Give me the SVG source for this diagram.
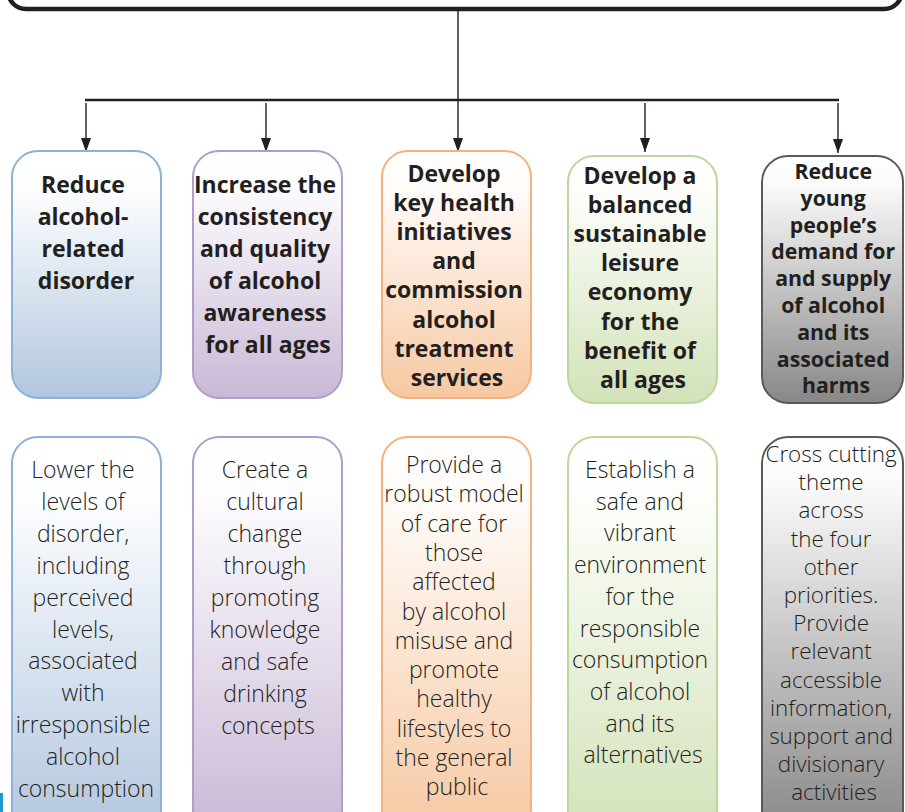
<svg xmlns="http://www.w3.org/2000/svg" width="905" height="812" viewBox="0 0 905 812">
  <defs>
    <linearGradient id="gBlue" x1="0" y1="0" x2="0" y2="1">
      <stop offset="0" stop-color="#ffffff"/>
      <stop offset="0.15" stop-color="#fdfeff"/>
      <stop offset="1" stop-color="#b2c6df"/>
    </linearGradient>
    <linearGradient id="gPurple" x1="0" y1="0" x2="0" y2="1">
      <stop offset="0" stop-color="#ffffff"/>
      <stop offset="0.15" stop-color="#fdfcfe"/>
      <stop offset="1" stop-color="#c8b8d5"/>
    </linearGradient>
    <linearGradient id="gOrange" x1="0" y1="0" x2="0" y2="1">
      <stop offset="0" stop-color="#ffffff"/>
      <stop offset="0.15" stop-color="#fffcfa"/>
      <stop offset="1" stop-color="#f6c8a1"/>
    </linearGradient>
    <linearGradient id="gGreen" x1="0" y1="0" x2="0" y2="1">
      <stop offset="0" stop-color="#ffffff"/>
      <stop offset="0.15" stop-color="#fdfefb"/>
      <stop offset="1" stop-color="#d2e2b8"/>
    </linearGradient>
    <linearGradient id="gGray" x1="0" y1="0" x2="0" y2="1">
      <stop offset="0" stop-color="#ffffff"/>
      <stop offset="0.12" stop-color="#fafafa"/>
      <stop offset="1" stop-color="#878787"/>
    </linearGradient>
    <marker id="arrow" viewBox="0 0 14 10" refX="14" refY="5" markerWidth="14" markerHeight="10" markerUnits="userSpaceOnUse" orient="auto">
      <path d="M0,0 L14,5 L0,10 z" fill="#231f20"/>
    </marker>
  </defs>
  <style>
    .box { stroke-width: 2; }
    .blue { fill: url(#gBlue); stroke: #8db0d7; }
    .purple { fill: url(#gPurple); stroke: #b19dc7; }
    .orange { fill: url(#gOrange); stroke: #f4b17e; }
    .green { fill: url(#gGreen); stroke: #bdd69c; }
    .gray { fill: url(#gGray); stroke: #58595b; }
    .head { font-family: "Open Sans", "Liberation Sans", sans-serif; font-weight: 700; font-size: 23px; fill: #231f20; text-anchor: middle; }
    .body { font-family: "Open Sans", "Liberation Sans", sans-serif; font-weight: 300; font-size: 23px; fill: #231f20; text-anchor: middle; }
    .tight { font-size: 21.3px; }
    .tight-body { font-size: 22.4px; }
    .wire { stroke: #231f20; fill: none; }
  </style>

  <rect width="905" height="812" fill="#ffffff"/>

  <!-- title box, mostly above the visible area -->
  <g id="title">
    <rect x="8" y="-60" width="894" height="69" rx="18" fill="#ffffff" stroke="#231f20" stroke-width="4.5"/>
  </g>

  <!-- connectors -->
  <g id="connectors">
    <line class="wire" x1="458" y1="10" x2="458" y2="152" stroke-width="1.4" marker-end="url(#arrow)"/>
    <line class="wire" x1="85" y1="100" x2="839" y2="100" stroke-width="2.6"/>
    <line class="wire" x1="86" y1="103" x2="86" y2="152" stroke-width="1.4" marker-end="url(#arrow)"/>
    <line class="wire" x1="266" y1="103" x2="266" y2="152" stroke-width="1.4" marker-end="url(#arrow)"/>
    <line class="wire" x1="645" y1="103" x2="645" y2="152" stroke-width="1.4" marker-end="url(#arrow)"/>
    <line class="wire" x1="838" y1="103" x2="838" y2="153" stroke-width="1.4" marker-end="url(#arrow)"/>
  </g>

  <!-- priorities -->
  <g id="p1">
    <rect class="box blue" x="12" y="151" width="149" height="247" rx="26"/>
    <text class="head" y="193">
      <tspan x="86">Reduce</tspan>
      <tspan x="86" dy="32">alcohol-</tspan>
      <tspan x="86" dy="32">related</tspan>
      <tspan x="86" dy="32">disorder</tspan>
    </text>
  </g>
  <g id="p2">
    <rect class="box purple" x="193" y="151" width="149" height="247" rx="26"/>
    <text class="head" y="193">
      <tspan x="268">Increase the</tspan>
      <tspan x="268" dy="32">consistency</tspan>
      <tspan x="268" dy="32">and quality</tspan>
      <tspan x="268" dy="32">of alcohol</tspan>
      <tspan x="268" dy="32">awareness</tspan>
      <tspan x="268" dy="32">for all ages</tspan>
    </text>
  </g>
  <g id="p3">
    <rect class="box orange" x="382" y="151" width="149" height="247" rx="26"/>
    <text class="head" y="182">
      <tspan x="457">Develop</tspan>
      <tspan x="457" dy="29.1">key health</tspan>
      <tspan x="457" dy="29.1">initiatives</tspan>
      <tspan x="457" dy="29.1">and</tspan>
      <tspan x="457" dy="29.1">commission</tspan>
      <tspan x="457" dy="29.1">alcohol</tspan>
      <tspan x="457" dy="29.1">treatment</tspan>
      <tspan x="457" dy="29.1">services</tspan>
    </text>
  </g>
  <g id="p4">
    <rect class="box green" x="568" y="156" width="149" height="247" rx="26"/>
    <text class="head" y="184">
      <tspan x="643">Develop a</tspan>
      <tspan x="643" dy="29.1">balanced</tspan>
      <tspan x="643" dy="29.1">sustainable</tspan>
      <tspan x="643" dy="29.1">leisure</tspan>
      <tspan x="643" dy="29.1">economy</tspan>
      <tspan x="643" dy="29.1">for the</tspan>
      <tspan x="643" dy="29.1">benefit of</tspan>
      <tspan x="643" dy="29.1">all ages</tspan>
    </text>
  </g>
  <g id="p5">
    <rect class="box gray" x="762" y="156" width="141" height="247" rx="26"/>
    <text class="head tight" y="179">
      <tspan x="836">Reduce</tspan>
      <tspan x="836" dy="26.8">young</tspan>
      <tspan x="836" dy="26.8">people’s</tspan>
      <tspan x="836" dy="26.8">demand for</tspan>
      <tspan x="836" dy="26.8">and supply</tspan>
      <tspan x="836" dy="26.8">of alcohol</tspan>
      <tspan x="836" dy="26.8">and its</tspan>
      <tspan x="836" dy="26.8">associated</tspan>
      <tspan x="836" dy="26.8">harms</tspan>
    </text>
  </g>

  <!-- aims under each priority -->
  <g id="a1">
    <rect class="box blue" x="12" y="437" width="149" height="400" rx="26"/>
    <text class="body" y="478">
      <tspan x="86">Lower the</tspan>
      <tspan x="86" dy="31.9">levels of</tspan>
      <tspan x="86" dy="31.9">disorder,</tspan>
      <tspan x="86" dy="31.9">including</tspan>
      <tspan x="86" dy="31.9">perceived</tspan>
      <tspan x="86" dy="31.9">levels,</tspan>
      <tspan x="86" dy="31.9">associated</tspan>
      <tspan x="86" dy="31.9">with</tspan>
      <tspan x="86" dy="31.9">irresponsible</tspan>
      <tspan x="86" dy="31.9">alcohol</tspan>
      <tspan x="86" dy="31.9">consumption</tspan>
    </text>
  </g>
  <g id="a2">
    <rect class="box purple" x="193" y="437" width="149" height="400" rx="26"/>
    <text class="body" y="478">
      <tspan x="268">Create a</tspan>
      <tspan x="268" dy="32">cultural</tspan>
      <tspan x="268" dy="32">change</tspan>
      <tspan x="268" dy="32">through</tspan>
      <tspan x="268" dy="32">promoting</tspan>
      <tspan x="268" dy="32">knowledge</tspan>
      <tspan x="268" dy="32">and safe</tspan>
      <tspan x="268" dy="32">drinking</tspan>
      <tspan x="268" dy="32">concepts</tspan>
    </text>
  </g>
  <g id="a3">
    <rect class="box orange" x="382" y="437" width="149" height="400" rx="26"/>
    <text class="body" y="473">
      <tspan x="457">Provide a</tspan>
      <tspan x="457" dy="29.3">robust model</tspan>
      <tspan x="457" dy="29.3">of care for</tspan>
      <tspan x="457" dy="29.3">those</tspan>
      <tspan x="457" dy="29.3">affected</tspan>
      <tspan x="457" dy="29.3">by alcohol</tspan>
      <tspan x="457" dy="29.3">misuse and</tspan>
      <tspan x="457" dy="29.3">promote</tspan>
      <tspan x="457" dy="29.3">healthy</tspan>
      <tspan x="457" dy="29.3">lifestyles to</tspan>
      <tspan x="457" dy="29.3">the general</tspan>
      <tspan x="457" dy="29.3">public</tspan>
    </text>
  </g>
  <g id="a4">
    <rect class="box green" x="568" y="437" width="149" height="400" rx="26"/>
    <text class="body" y="478">
      <tspan x="643">Establish a</tspan>
      <tspan x="643" dy="31.7">safe and</tspan>
      <tspan x="643" dy="31.7">vibrant</tspan>
      <tspan x="643" dy="31.7">environment</tspan>
      <tspan x="643" dy="31.7">for the</tspan>
      <tspan x="643" dy="31.7">responsible</tspan>
      <tspan x="643" dy="31.7">consumption</tspan>
      <tspan x="643" dy="31.7">of alcohol</tspan>
      <tspan x="643" dy="31.7">and its</tspan>
      <tspan x="643" dy="31.7">alternatives</tspan>
    </text>
  </g>
  <g id="a5">
    <rect class="box gray" x="762" y="437" width="141" height="400" rx="26"/>
    <text class="body tight-body" y="462">
      <tspan x="834">Cross cutting</tspan>
      <tspan x="834" dy="28.2">theme</tspan>
      <tspan x="834" dy="28.2">across</tspan>
      <tspan x="834" dy="28.2">the four</tspan>
      <tspan x="834" dy="28.2">other</tspan>
      <tspan x="834" dy="28.2">priorities.</tspan>
      <tspan x="834" dy="28.2">Provide</tspan>
      <tspan x="834" dy="28.2">relevant</tspan>
      <tspan x="834" dy="28.2">accessible</tspan>
      <tspan x="834" dy="28.2">information,</tspan>
      <tspan x="834" dy="28.2">support and</tspan>
      <tspan x="834" dy="28.2">divisionary</tspan>
      <tspan x="834" dy="28.2">activities</tspan>
    </text>
  </g>

  <!-- edge mark at lower left -->
  <rect x="0" y="793" width="3" height="19" fill="#1b9ad6"/>
</svg>
